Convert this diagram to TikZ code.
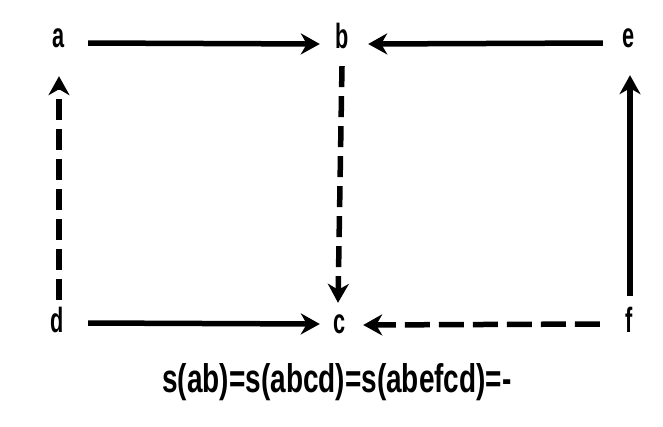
\documentclass[tikz,border=0pt]{standalone}
\usepackage{fontspec}
\setmainfont{Liberation Sans}
\newfontfamily\lblfont[FakeStretch=0.62]{Liberation Sans}
\newfontfamily\capfont[FakeStretch=0.7]{Liberation Sans}
\usetikzlibrary{arrows.meta}
\begin{document}
\begin{tikzpicture}[x=1pt,y=-1pt,
  lbl/.style={inner sep=0pt,anchor=base,text height=26pt,text depth=0pt,minimum width=14pt,
    font=\lblfont\bfseries\fontsize{35}{38}\selectfont},
  conn/.style={line width=5.5pt,-{Stealth[length=19pt,width=21pt,inset=6pt]}},
  dshv/.style={conn,dash pattern=on 21pt off 9pt},
  dshh/.style={conn,dash pattern=on 25pt off 9pt}]
\useasboundingbox (0,0) rectangle (663,426);
\node[lbl] (a) at (59,47) {a};
\node[lbl] (b) at (342,48) {b};
\node[lbl] (e) at (629,47) {e};
\node[lbl] (d) at (57,332) {d};
\node[lbl] (c) at (340,333) {c};
\node[lbl] (f) at (629,332) {f};
\node[inner sep=0pt,anchor=base,font=\capfont\bfseries\fontsize{40}{44}\selectfont] (cap) at (337,392) {s(ab)=s(abcd)=s(abefcd)=-};
\draw[conn] ([xshift=22pt,yshift=-9pt]a.east) -- ([xshift=-15pt,yshift=-9pt]b.west);
\draw[conn] ([xshift=-19pt,yshift=-9pt]e.west) -- ([xshift=19pt,yshift=-9pt]b.east);
\draw[conn] ([xshift=24pt,yshift=-4pt]d.east) -- ([xshift=-13pt,yshift=-4pt]c.west);
\draw[dshh] ([xshift=-22pt,yshift=-5pt]f.west) -- ([xshift=16pt,yshift=-5pt]c.east);
\draw[dshv] ([xshift=2pt,yshift=6pt]d.north) -- ([yshift=-29pt]a.south);
\draw[dshv] ([yshift=-18pt]b.south) -- ([xshift=-2pt,yshift=4pt]c.north);
\draw[conn] ([xshift=1pt,yshift=10pt]f.north) -- ([xshift=1pt,yshift=-28pt]e.south);
\end{tikzpicture}
\end{document}
